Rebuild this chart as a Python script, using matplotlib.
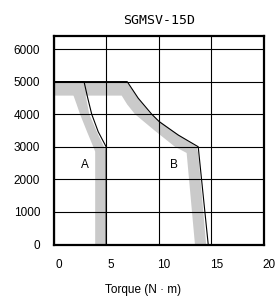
import matplotlib
matplotlib.use("Agg")
import matplotlib.pyplot as plt
import matplotlib.transforms as mtransforms

# Speed-torque curve of SGMSV-15D
title = "SGMSV-15D"
x_ticks = [0, 5, 10, 15, 20]
y_ticks = [0, 1000, 2000, 3000, 4000, 5000, 6000]

# thin black boundary lines (torque N*m, speed min-1)
a_torque = [0, 2.9, 3.25, 3.63, 4.25, 5.0, 5.0]
a_speed = [5000, 5000, 4500, 4000, 3460, 3000, 0]
b_torque = [0, 7.0, 8.05, 9.33, 10.05, 11.85, 13.75, 14.7]
b_speed = [5000, 5000, 4490, 4000, 3770, 3360, 3000, 0]

# gray bands (upper edge then lower edge)
a_band_hi_t = [0, 2.75, 3.1, 3.4, 4.2, 4.8, 4.95, 4.95]
a_band_hi_s = [5000, 5000, 4500, 4000, 3400, 3000, 2900, 0]
a_band_lo_t = [0, 1.88, 2.2, 2.52, 3.2, 3.78, 3.96, 3.96]
a_band_lo_s = [4590, 4590, 4300, 4000, 3450, 3000, 2850, 0]

b_band_hi_t = [0, 6.95, 8.0, 9.23, 11.3, 13.6, 13.75, 14.5]
b_band_hi_s = [5000, 5000, 4500, 4000, 3500, 3000, 2800, 0]
b_band_lo_t = [0, 6.48, 7.0, 7.74, 9.6, 11.54, 12.65, 13.44]
b_band_lo_s = [4570, 4570, 4300, 4000, 3500, 3000, 2810, 0]

gray = "#cacaca"

fig = plt.figure(figsize=(2.75, 2.98), dpi=100)
ax = fig.add_axes([53.5 / 275, 1 - 244.5 / 298, 210.5 / 275, 208.5 / 298])

for hi_t, hi_s, lo_t, lo_s in [(a_band_hi_t, a_band_hi_s, a_band_lo_t, a_band_lo_s),
                               (b_band_hi_t, b_band_hi_s, b_band_lo_t, b_band_lo_s)]:
    ax.fill(hi_t + lo_t[::-1], hi_s + lo_s[::-1], color=gray, lw=0, zorder=0)

ax.plot(a_torque, a_speed, color="black", lw=0.8, zorder=3)
ax.plot(b_torque, b_speed, color="black", lw=0.8, zorder=3)

ax.text(2.95, 2440, "A", ha="center", va="center", fontsize=8.5, family="Liberation Sans")
ax.text(11.4, 2440, "B", ha="center", va="center", fontsize=8.5, family="Liberation Sans")

ax.set_xlim(0, 20)
ax.set_ylim(0, 6400)
ax.set_xticks(x_ticks)
ax.set_yticks(y_ticks)
ax.grid(True, color="black", lw=0.8)
ax.tick_params(length=0, labelsize=8.5)
ax.tick_params(axis="x", pad=10.5)
ax.tick_params(axis="y", pad=9.5)
for lab in ax.get_xticklabels() + ax.get_yticklabels():
    lab.set_family("Liberation Sans")

# tick labels in the original sit a bit right of the grid lines
shift = mtransforms.ScaledTranslation(0.05, 0, fig.dpi_scale_trans)
for lab in ax.get_xticklabels():
    lab.set_transform(lab.get_transform() + shift)

for sp in ax.spines.values():
    sp.set_linewidth(1.6)

ax.set_title(title, fontsize=9.5, family="DejaVu Sans Mono", pad=9)
fig.text(143 / 275, 1 - 290 / 298, "Torque (N · m)", ha="center", va="center",
         fontsize=8.5, family="Liberation Sans")

fig.savefig("out.png", dpi=100)
